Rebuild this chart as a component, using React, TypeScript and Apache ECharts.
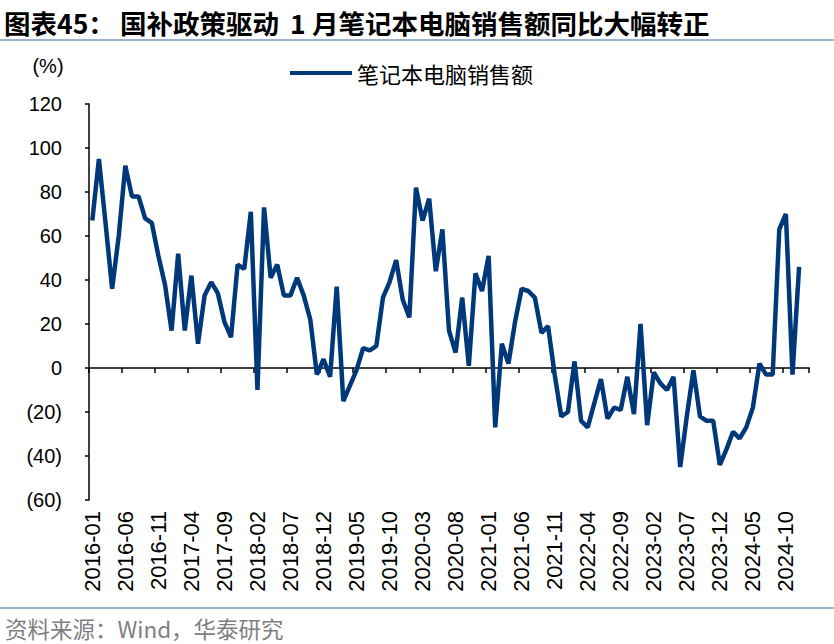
import React, { useEffect, useRef } from "react";
import * as echarts from "echarts";

// Monthly notebook PC sales YoY (%)
const seriesName = "笔记本电脑销售额";
const values: number[] = [
  67, 95, 66, 36, 60, 92, 78, 78, 68, 66, 51, 38,
  17, 52, 17, 42, 11, 33, 39, 34, 21, 14, 47, 45,
  71, -10, 73, 41, 47, 33, 33, 41, 33, 22, -3, 4,
  -4, 37, -15, -8, -1, 9, 8, 10, 32, 39, 49, 31,
  23, 82, 67, 77, 44, 63, 17, 7, 32, 1, 43, 35,
  51, -27, 11, 2, 21, 36, 35, 32, 16, 19, -3, -22,
  -20, 3, -24, -27, -16, -5, -23, -18, -19, -4, -21, 20,
  -26, -2, -7, -10, -4, -45, -22, -1, -22, -24, -24, -44,
  -37, -29, -32, -27, -18, 2, -3, -3, 63, 70, -3, 46,
];
const startYear = 2016;
const monthCount = 109; // 2016-01 .. 2025-01
const months: string[] = [];
for (let i = 0; i < monthCount; i++) {
  const y = startYear + Math.floor(i / 12);
  const m = (i % 12) + 1;
  months.push(`${y}-${m < 10 ? "0" + m : m}`);
}
const yMin = -60;
const yMax = 120;
const yStep = 20;

const titleParts = [
  { text: "图表45：", x: 4 },
  { text: "国补政策驱动", x: 120 },
  { text: "1", x: 290 },
  { text: "月笔记本电脑销售额同比大幅转正", x: 312 },
];
const sourceText = "资料来源：Wind，华泰研究";
const unitText = "(%)";

const LINE_COLOR = "#00387A";
const RULE_COLOR = "#9DB2CC";
const CJK = '"Noto Sans CJK SC", "Noto Sans", sans-serif';
const LATIN = '"Liberation Sans", Arial, sans-serif';

export default function App() {
  const ref = useRef<HTMLDivElement>(null);
  useEffect(() => {
    document.body.style.margin = "0";
    const chart = echarts.init(ref.current!, undefined, { renderer: "svg" });
    const option: any = {
      animation: false,
      backgroundColor: "#ffffff",
      grid: { left: 89, right: 25, top: 104, bottom: 144, containLabel: false },
      legend: {
        show: true,
        left: 285,
        top: 57,
        icon: "rect",
        itemWidth: 62,
        itemHeight: 4,
        data: [seriesName],
        textStyle: { fontFamily: CJK, fontSize: 22, color: "#000" },
      },
      xAxis: [
        {
          type: "category",
          data: months,
          boundaryGap: true,
          position: "bottom",
          axisLine: { show: false, onZero: false },
          axisTick: { show: false },
          axisLabel: {
            interval: 4,
            rotate: 90,
            fontSize: 22,
            fontFamily: LATIN,
            color: "#000",
            margin: 11,
          },
        },
        {
          type: "category",
          data: months,
          boundaryGap: true,
          position: "bottom",
          axisLine: { show: true, onZero: true, lineStyle: { color: "#404040", width: 2 } },
          axisTick: { show: true, interval: 4, length: 5, lineStyle: { color: "#000", width: 1.5 } },
          axisLabel: { show: false },
        },
      ],
      yAxis: {
        type: "value",
        min: yMin,
        max: yMax,
        interval: yStep,
        axisLine: { show: true, lineStyle: { color: "#000", width: 1.5 } },
        axisTick: { show: true, length: 4, lineStyle: { color: "#000", width: 1.5 } },
        splitLine: { show: false },
        axisLabel: {
          formatter: (v: number) => (v < 0 ? `(${-v})` : `${v}`),
          fontSize: 20,
          fontFamily: LATIN,
          color: "#000",
          margin: 27,
        },
      },
      series: [
        {
          name: seriesName,
          type: "line",
          data: values,
          xAxisIndex: 0,
          yAxisIndex: 0,
          symbol: "none",
          showSymbol: false,
          lineStyle: { color: LINE_COLOR, width: 4.5 },
          itemStyle: { color: LINE_COLOR },
        },
      ],
      graphic: [
        ...titleParts.map((p) => ({
          type: "text",
          x: p.x,
          y: 22,
          style: {
            text: p.text,
            fontFamily: CJK,
            fontWeight: "bold",
            fontSize: 26.5,
            fill: "#000",
            verticalAlign: "middle",
          },
        })),
        {
          type: "line",
          shape: { x1: 0, y1: 40, x2: 834, y2: 40 },
          style: { stroke: RULE_COLOR, lineWidth: 2 },
        },
        {
          type: "text",
          x: 48,
          y: 66,
          style: {
            text: unitText,
            fontFamily: LATIN,
            fontSize: 20,
            fill: "#000",
            align: "center",
            verticalAlign: "middle",
          },
        },
        {
          type: "line",
          shape: { x1: 0, y1: 608, x2: 834, y2: 608 },
          style: { stroke: RULE_COLOR, lineWidth: 2 },
        },
        {
          type: "text",
          x: 5,
          y: 628,
          style: {
            text: sourceText,
            fontFamily: CJK,
            fontSize: 22.5,
            fill: "#7F7F7F",
            verticalAlign: "middle",
          },
        },
      ],
    };
    chart.setOption(option);
    return () => chart.dispose();
  }, []);
  return (
    <div
      ref={ref}
      style={{ position: "absolute", left: 0, top: 0, width: 834, height: 644 }}
    />
  );
}
